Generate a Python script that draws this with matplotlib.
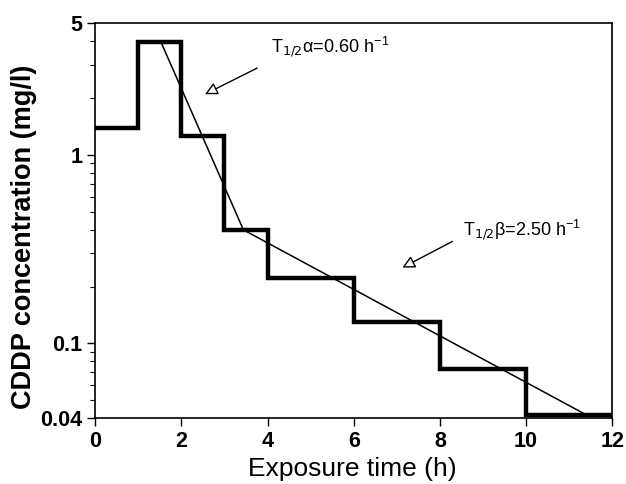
import matplotlib
matplotlib.use("Agg")
import matplotlib.pyplot as plt
from matplotlib.ticker import LogLocator, NullFormatter, FixedLocator

plt.rcParams['font.family'] = ['Liberation Sans', 'DejaVu Sans']

# Data
step_edges = [0, 1, 2, 3, 4, 6, 8, 10, 12]
step_conc = [1.39, 3.96, 1.26, 0.40, 0.223, 0.129, 0.073, 0.0416]
fit_time = [1.53, 3.44, 11.37]
fit_conc = [3.96, 0.40, 0.042]
x_ticks = [0, 2, 4, 6, 8, 10, 12]
y_ticks = [0.04, 0.1, 1, 5]
y_ticklabels = ['0.04', '0.1', '1', '5']

fig = plt.figure(figsize=(6.26, 4.84), dpi=100)
ax = fig.add_axes([0.152, 0.136, 0.826, 0.816])

ax.stairs(step_conc, step_edges, baseline=None, color='black', linewidth=3.2)
ax.plot(fit_time, fit_conc, color='black', linewidth=1.1)

ax.set_yscale('log')
ax.set_xlim(0, 12)
ax.set_ylim(0.04, 5)
ax.set_xticks(x_ticks)
ax.set_xticklabels([str(t) for t in x_ticks], fontsize=15.5, fontweight='bold')
ax.yaxis.set_major_locator(FixedLocator(y_ticks))
ax.set_yticklabels(y_ticklabels, fontsize=15.5, fontweight='bold')
ax.yaxis.set_minor_locator(LogLocator(base=10, subs=[2, 3, 4, 5, 6, 7, 8, 9]))
ax.yaxis.set_minor_formatter(NullFormatter())
ax.tick_params(axis='both', which='major', direction='out', length=6, width=1.0, pad=3)
ax.tick_params(axis='y', which='minor', direction='out', length=3.5, width=0.8)
for s in ax.spines.values():
    s.set_linewidth(1.2)

ax.set_xlabel('Exposure time (h)', fontsize=19, fontweight='normal')
ax.xaxis.set_label_coords(0.498, -0.098)
ax.set_ylabel('CDDP concentration (mg/l)', fontsize=19.5, fontweight='bold')
ax.yaxis.set_label_coords(-0.112, 0.46)

arrow = dict(arrowstyle='-|>,head_length=0.75,head_width=0.38', fc='white', ec='black', lw=1.0,
             shrinkA=0, shrinkB=0)
ax.annotate('', xy=(2.55, 2.10), xytext=(3.76, 2.89), arrowprops=arrow)
ax.text(4.07, 3.75, r'T$_{1/2}$$\mathregular{\alpha}$=0.60 h$^{\mathregular{-1}}$', fontsize=13,
        va='center', ha='left')
ax.annotate('', xy=(7.13, 0.252), xytext=(8.29, 0.347), arrowprops=arrow)
ax.text(8.54, 0.40, r'T$_{1/2}$$\mathregular{\beta}$=2.50 h$^{\mathregular{-1}}$', fontsize=13,
        va='center', ha='left')

fig.savefig('out.png', dpi=100)
